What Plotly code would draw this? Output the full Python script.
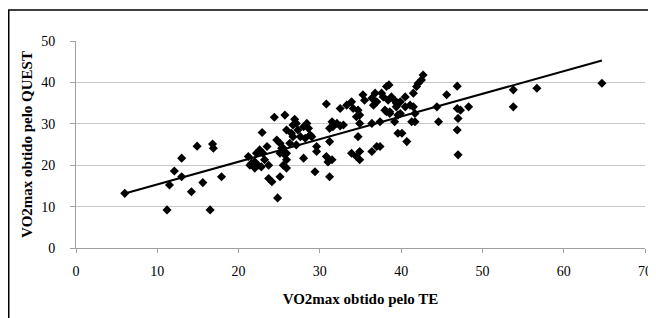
import plotly.graph_objects as go

# VO2max from TE (x) and from QUEST (y)
te = [6.0, 11.5, 11.2, 12.1, 13.0, 13.0, 14.2, 14.9, 15.6, 16.8, 16.9, 16.5, 17.9,
      21.2, 21.6, 22.0, 22.2, 22.6, 23.0, 23.2, 23.5, 23.7, 22.8, 22.4, 21.4, 22.0,
      22.9, 24.4, 23.7, 24.1, 24.8, 25.1,
      24.7, 25.1, 25.5, 25.9, 26.3, 26.7, 27.1, 25.9, 25.5, 25.9, 25.7, 25.9, 25.3, 25.7, 25.1,
      26.9, 26.7, 27.1, 26.5, 27.3, 28.0, 28.4, 28.6, 27.6, 28.2, 28.8, 28.0, 29.0, 29.6, 29.6, 29.4,
      30.8, 31.5, 31.6, 32.1, 32.5, 32.9, 31.2, 31.2, 30.8, 31.0, 31.5, 31.2,
      32.5, 33.3, 33.9, 34.1, 34.7, 34.9, 34.5, 35.3, 35.5, 36.4, 36.8, 37.0, 36.6,
      34.9, 34.7, 33.9, 34.5, 34.9, 34.9, 36.4, 37.0,
      36.4, 37.4, 38.2, 38.6, 39.2, 39.4, 37.8, 38.4, 39.6,
      38.2, 38.5, 37.6, 38.8, 39.2, 39.6, 39.4, 39.9, 40.5, 40.5, 38.0, 38.6, 39.6, 39.9,
      40.1, 40.7, 41.1, 41.5, 41.7, 41.3, 41.7, 41.5, 41.9, 42.1, 42.5, 42.7, 37.4,
      44.6, 44.4, 45.6, 46.9, 46.9, 47.3, 47.0, 48.3, 46.9, 47.0,
      53.8, 53.8, 56.7, 64.7]
quest = [13.2, 15.2, 9.2, 18.6, 21.7, 17.2, 13.6, 24.6, 15.8, 25.1, 24.1, 9.2, 17.2,
         22.1, 20.5, 20.8, 22.9, 23.7, 22.9, 21.3, 24.5, 20.0, 19.6, 20.0, 20.0, 19.3,
         27.9, 31.6, 16.8, 16.0, 12.1, 17.2,
         26.1, 25.3, 24.1, 22.9, 25.3, 26.9, 24.9, 21.3, 20.0, 19.3, 32.1, 28.5, 24.1, 22.5, 22.9,
         31.1, 29.7, 30.1, 27.7, 28.5, 29.3, 30.1, 28.9, 26.9, 26.5, 27.3, 21.7, 26.9, 24.5, 23.3, 18.4,
         34.8, 30.5, 29.3, 30.1, 29.5, 29.7, 28.9, 25.7, 22.1, 20.8, 21.3, 17.2,
         33.7, 34.5, 35.3, 33.7, 33.3, 32.1, 31.7, 37.0, 35.7, 36.2, 37.4, 35.3, 34.5,
         30.1, 26.9, 22.9, 22.1, 23.3, 21.3, 23.3, 24.5,
         30.1, 30.5, 32.9, 32.5, 30.5, 35.0, 36.5, 35.7, 27.7,
         39.0, 39.4, 37.4, 36.5, 35.7, 35.0, 34.1, 35.3, 36.5, 34.1, 33.3, 32.9, 32.1, 32.5,
         27.7, 25.7, 34.5, 34.1, 32.5, 30.5, 30.5, 37.4, 39.0, 39.8, 40.6, 41.8, 24.5,
         30.5, 34.1, 37.0, 39.1, 33.7, 33.3, 31.3, 34.1, 28.5, 22.5,
         38.2, 34.1, 38.6, 39.8]

# linear trend
trend_slope = 0.547
trend_intercept = 9.9

x_ticks = [0, 10, 20, 30, 40, 50, 60, 70]
y_ticks = [0, 10, 20, 30, 40, 50]

x_min, x_max = min(te), max(te)
trend_x = [x_min, x_max]
trend_y = [trend_intercept + trend_slope * v for v in trend_x]

fig = go.Figure()
fig.add_trace(go.Scatter(x=te, y=quest, mode="markers",
                         marker=dict(symbol="diamond", size=7, color="black"),
                         showlegend=False, cliponaxis=False))
fig.add_trace(go.Scatter(x=trend_x, y=trend_y, mode="lines",
                         line=dict(color="black", width=2), showlegend=False))

font_serif = "Liberation Serif, Times New Roman, serif"
fig.update_layout(
    width=664, height=310,
    margin=dict(l=68, r=27, t=33, b=70),
    paper_bgcolor="white", plot_bgcolor="white",
    font=dict(family=font_serif, color="black", size=14),
    xaxis=dict(range=[0, 70], tickvals=x_ticks, showgrid=False, zeroline=False,
               showline=True, linecolor="#a0a0a0", linewidth=1,
               ticks="outside", ticklen=4, tickcolor="#a0a0a0",
               tickfont=dict(size=14), ticklabelstandoff=6, automargin=False,
               title=dict(text="<b>VO2max obtido pelo TE</b>", font=dict(size=15), standoff=15)),
    yaxis=dict(range=[0, 50], tickvals=y_ticks, showgrid=True, gridcolor="#c8c8c8", gridwidth=1,
               zeroline=False, showline=True, linecolor="#a0a0a0", linewidth=1,
               ticks="outside", ticklen=5, tickcolor="#a0a0a0",
               tickfont=dict(size=14), ticklabelstandoff=12, automargin=False,
               title=dict(text="<b>VO2max obtido pelo QUEST</b>", font=dict(size=15), standoff=4)),
    shapes=[dict(type="rect", xref="paper", yref="paper",
                 x0=(0.75 - 68) / 569, x1=1.2, y0=-0.6, y1=(240 - 2) / 207,
                 line=dict(color="black", width=1.5), layer="above")],
)

fig.write_html("out.html")
